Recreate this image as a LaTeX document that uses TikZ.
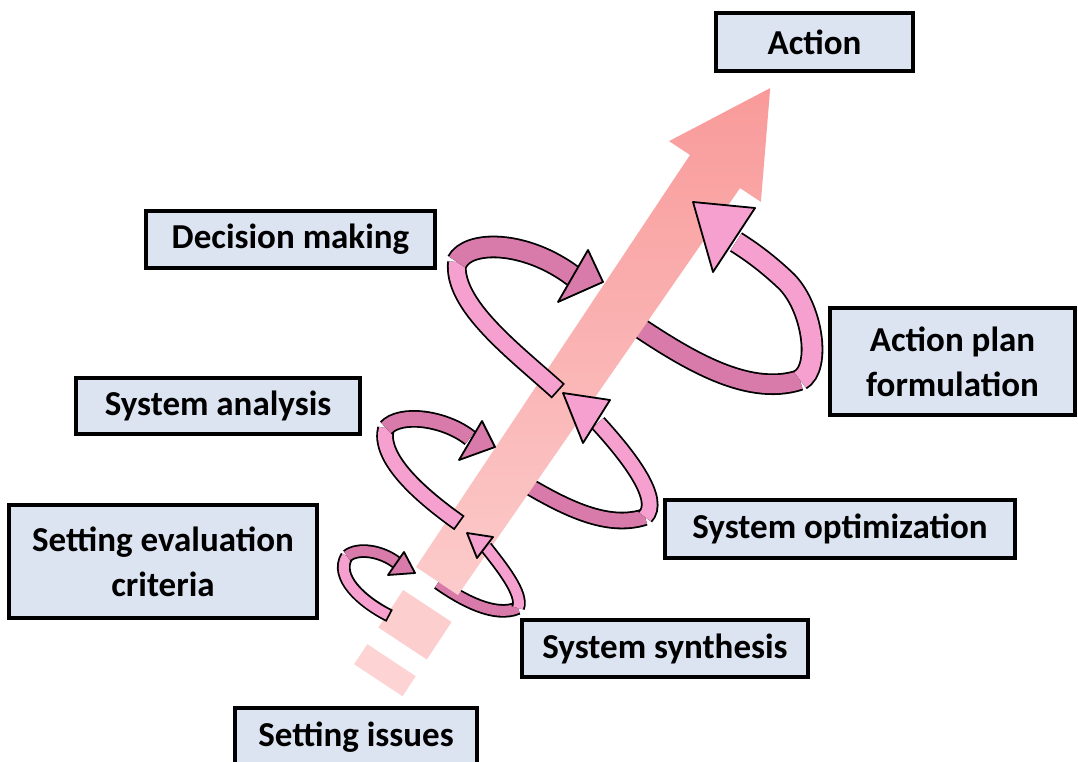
\documentclass[tikz,border=0pt]{standalone}
\usepackage{fontspec}
\setmainfont{Carlito}
\definecolor{boxfill}{HTML}{DCE3F1}
\definecolor{riblight}{HTML}{F6A0D0}
\definecolor{ribdark}{HTML}{D87BAA}
\definecolor{shafttop}{HTML}{F99A9A}
\definecolor{shaftmid}{HTML}{FBB4B4}
\definecolor{shaftlow}{HTML}{FCCBCB}
\definecolor{dashone}{HTML}{FDD3D3}
\definecolor{dashtwo}{HTML}{FCCECE}
% one piece of a curled ribbon: inner width, outline width, colour, extra outline style, path
\newcommand{\ribbonseg}[5]{%
  \draw[line width=#2, black, #4] #5;
  \draw[line width=#1, #3] #5;}
\begin{document}
\begin{tikzpicture}[x=1pt,y=-1pt,
  label box/.style={draw=black, line width=3.2pt, fill=boxfill, inner sep=0pt,
    align=center, font=\fontsize{35}{45}\selectfont\bfseries},
  head light/.style={fill=riblight, draw=black, line width=1.8pt, line join=round},
  head dark/.style={fill=ribdark, draw=black, line width=1.8pt, line join=round},
  tail/.style={shorten <=-1.8pt}]
\useasboundingbox (0,0) rectangle (1078,762);
\clip (0,0) rectangle (1078,762);
\fill[white] (0,0) rectangle (1078,762);

% --- ribbon parts that pass behind the big arrow
\ribbonseg{18pt}{21.6pt}{ribdark}{}{(625,318) .. controls (680,355) and (745,398) .. (800,380)}
\ribbonseg{14pt}{17.6pt}{ribdark}{}{(515,478) .. controls (560,505) and (605,530) .. (645,517)}
\ribbonseg{10pt}{13.6pt}{ribdark}{}{(438,583) .. controls (462,600) and (495,618) .. (518,608)}

% --- the big arrow: two loose pieces and the main body
\fill[dashone] (367.3,644.2) -- (415.7,676.2) -- (402.5,696.2) -- (354.1,664.2) -- cycle;
\fill[dashtwo] (403.2,590.0) -- (451.6,622.0) -- (426.8,659.5) -- (378.4,627.5) -- cycle;
\shade[top color=shafttop, middle color=shaftmid, bottom color=shaftlow]
  (416,567) -- (690,155) -- (669.1,141.1) -- (770.2,88.1) -- (760.9,201.9)
  -- (740,188.1) -- (458,595) -- cycle;

% --- lowest curl
\ribbonseg{10pt}{13.6pt}{riblight}{tail}{(388,615) .. controls (362,602) and (334,577) .. (347,556)}
\ribbonseg{10pt}{13.6pt}{ribdark}{}{(347,556) .. controls (358,547) and (382,551) .. (397,563)}
\filldraw[head dark] (404,552) -- (415,573) -- (388,575) -- cycle;
\ribbonseg{10pt}{13.6pt}{riblight}{}{(518,608) .. controls (524,594) and (500,565) .. (486,547)}
\filldraw[head light] (467,533) -- (493,537) -- (477,558) -- cycle;

% --- middle curl
\ribbonseg{14pt}{17.6pt}{riblight}{tail}{(458,522) .. controls (420,495) and (378,458) .. (386,428)}
\ribbonseg{14pt}{17.6pt}{ribdark}{}{(386,428) .. controls (400,412) and (445,418) .. (470,438)}
\filldraw[head dark] (482,421) -- (495,447) -- (459,460) -- cycle;
\ribbonseg{14pt}{17.6pt}{riblight}{}{(645,517) .. controls (662,500) and (630,458) .. (598,423)}
\filldraw[head light] (563,393) -- (610,400) -- (583,443) -- cycle;

% --- top curl
\ribbonseg{16pt}{19.6pt}{riblight}{tail}{(557,390) .. controls (515,352) and (452,305) .. (457,262)}
\ribbonseg{19pt}{22.6pt}{ribdark}{}{(457,262) .. controls (468,240) and (525,240) .. (573,276)}
\filldraw[head dark] (588,250) -- (603,282) -- (558,302) -- cycle;
\ribbonseg{19pt}{22.6pt}{riblight}{}{(800,380) .. controls (822,368) and (812,305) .. (785,280) .. controls (768,264) and (752,252) .. (736,242)}
\filldraw[head light] (693,202) -- (755,208) -- (713,272) -- cycle;

% --- labels
\node[label box, minimum width=197pt, minimum height=58pt] (action) at (814.5,42) {Action};
\node[label box, minimum width=289pt, minimum height=57pt] (decision) at (290.5,239.5) {Decision making};
\node[label box, minimum width=245pt, minimum height=107pt] (plan) at (952.5,361.5) {Action plan\\formulation};
\node[label box, minimum width=284pt, minimum height=56pt] (analysis) at (218,406) {System analysis};
\node[label box, minimum width=308pt, minimum height=113pt] (criteria) at (163,561.5) {Setting evaluation\\criteria};
\node[label box, minimum width=350pt, minimum height=58pt] (optim) at (840,529) {System optimization};
\node[label box, minimum width=286pt, minimum height=57pt] (synth) at (665,648.5) {System synthesis};
\node[label box, minimum width=242pt, minimum height=58pt] (issues) at (356,737) {Setting issues};
\end{tikzpicture}
\end{document}
